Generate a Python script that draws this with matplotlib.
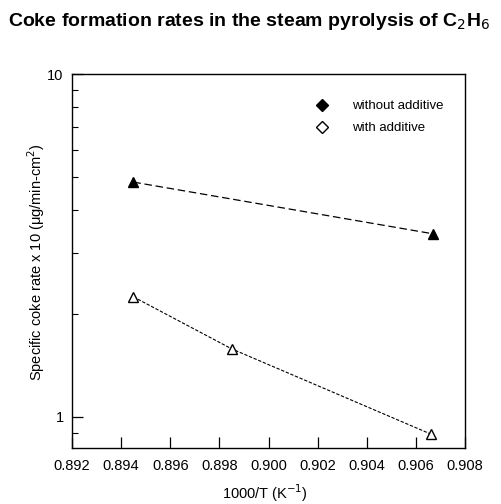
import matplotlib
matplotlib.use("Agg")
import matplotlib.pyplot as plt
from matplotlib.lines import Line2D
from matplotlib.ticker import FixedLocator, NullFormatter

plt.rcParams['font.family'] = ['Liberation Sans', 'DejaVu Sans']

# data
x_without = [0.8945, 0.9067]
y_without = [4.84, 3.42]
x_with = [0.8945, 0.8985, 0.9066]
y_with = [2.24, 1.58, 0.892]
xticks = [0.892, 0.894, 0.896, 0.898, 0.900, 0.902, 0.904, 0.906, 0.908]
xticklabels = ["0.892", "0.894", "0.896", "0.898", "0.900", "0.902", "0.904", "0.906", "0.908"]
yticks = [1, 10]
yticklabels = ["1", "10"]
labels = ["without additive", "with additive"]

fig = plt.figure(figsize=(5.01, 5.04), dpi=100)
ax = fig.add_axes([72/501, 1-448/504, (465-72)/501, (448-74)/504])

ax.plot(x_without, y_without, color='black', lw=0.9, ls=(0, (6, 3)),
        marker='^', markersize=7, markerfacecolor='black', markeredgecolor='black')
ax.plot(x_with, y_with, color='black', lw=0.8, ls=(0, (3, 1.5)),
        marker='^', markersize=7, markerfacecolor='white', markeredgecolor='black',
        markeredgewidth=1.0)

ax.set_yscale('log')
ax.set_xlim(0.892, 0.908)
ax.set_ylim(0.812, 10)
ax.set_xticks(xticks)
ax.set_xticklabels(xticklabels)
ax.yaxis.set_major_locator(FixedLocator(yticks))
ax.set_yticklabels(yticklabels)
ax.yaxis.set_minor_locator(FixedLocator([0.9, 2, 3, 4, 5, 6, 7, 8, 9]))
ax.yaxis.set_minor_formatter(NullFormatter())
ax.tick_params(axis='both', which='major', direction='in', length=8, width=0.9,
               labelsize=10.5)
ax.tick_params(axis='x', which='major', pad=8)
ax.tick_params(axis='y', which='major', pad=6)
ax.tick_params(axis='y', which='minor', direction='in', length=4, width=0.8)
ax.tick_params(axis='x', which='minor', bottom=False)
for s in ax.spines.values():
    s.set_linewidth(1.0)

ax.set_xlabel("1000/T (K$^{-1}$)", fontsize=10.5)
ax.xaxis.set_label_coords((265-72)/393, -(482-448)/374)
ax.set_ylabel("Specific coke rate x 10 (\u03bcg/min-cm$^{2}$)", fontsize=10.5)
ax.yaxis.set_label_coords(-(72-47)/393, (448-262)/374)

handles = [
    Line2D([], [], ls='none', marker='D', markersize=6, markerfacecolor='black', markeredgecolor='black'),
    Line2D([], [], ls='none', marker='D', markersize=6, markerfacecolor='white', markeredgecolor='black'),
]
ax.legend(handles, labels, loc='upper left', bbox_to_anchor=(0.585, 0.962), frameon=False,
          fontsize=9.5, handletextpad=1.7, labelspacing=0.75, handlelength=1.2)

fig.text(8/501, 1-22/504, "Coke formation rates in the steam pyrolysis of C$_2$H$_6$",
         fontsize=14, fontweight='bold', ha='left', va='center')

fig.savefig("out.png", dpi=100)
